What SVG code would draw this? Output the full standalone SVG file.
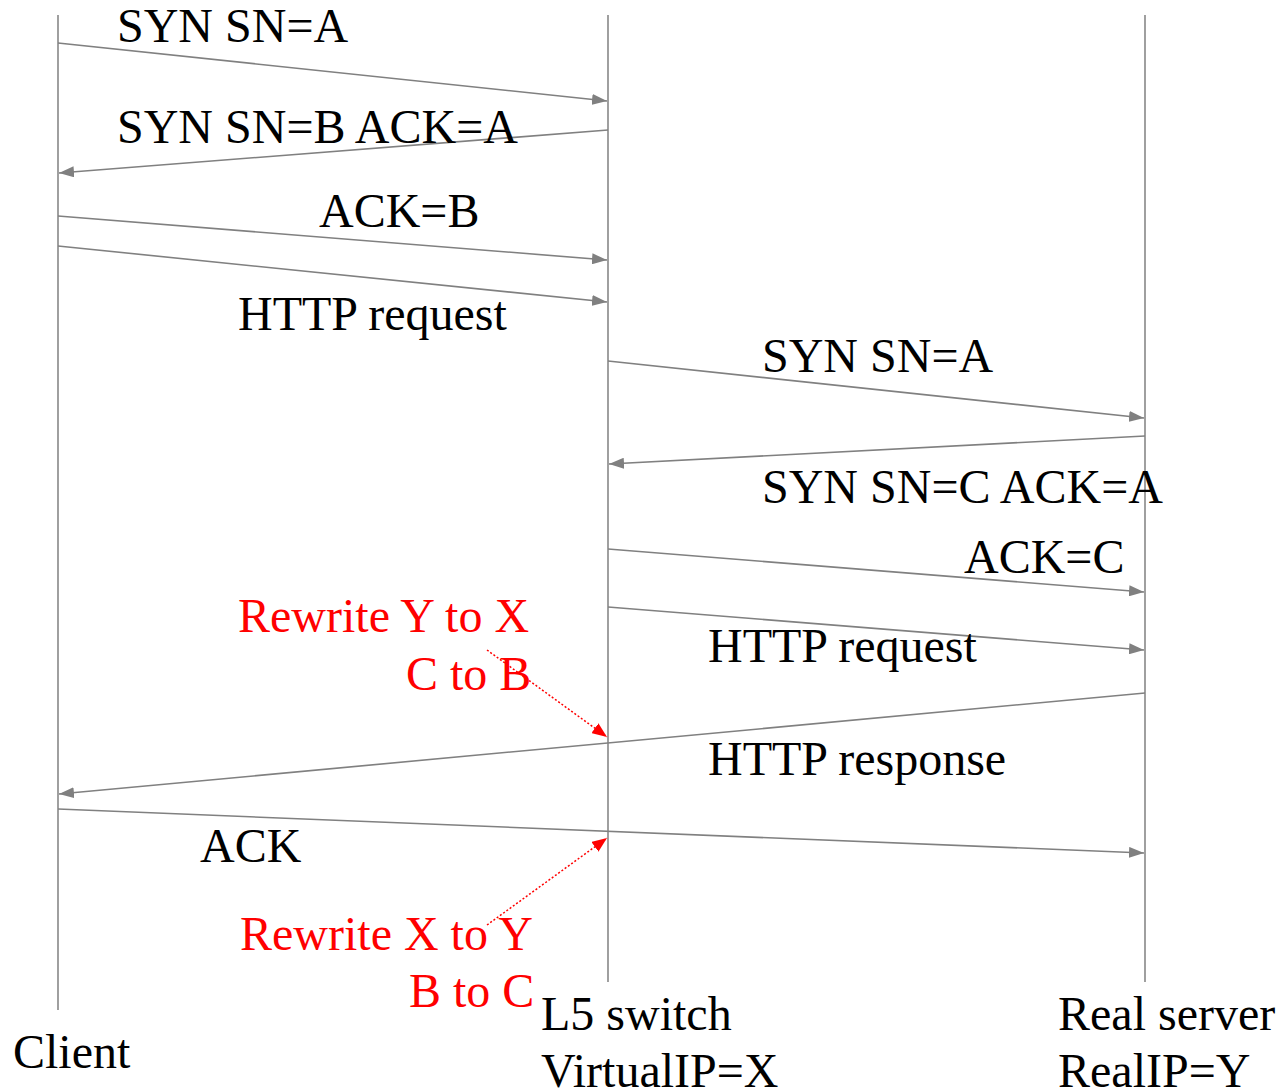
<svg xmlns="http://www.w3.org/2000/svg" width="1281" height="1091" viewBox="0 0 1281 1091">
<style>
text{font-family:"Liberation Serif","Times New Roman",serif;font-size:48px;fill:#000}
.red{fill:#ff0000}
.life{stroke:#888;stroke-width:1.6;fill:none}
.msg{stroke:#808080;stroke-width:1.6;fill:none;marker-end:url(#ah)}
.note{stroke:#ff0000;stroke-width:1.5;stroke-dasharray:2 2;fill:none;marker-end:url(#rh)}
</style>
<defs>
<marker id="ah" viewBox="0 0 15 11" refX="15" refY="5.5" markerWidth="15" markerHeight="11" markerUnits="userSpaceOnUse" orient="auto"><path d="M0,0L15,5.5L0,11z" fill="#808080"/></marker>
<marker id="rh" viewBox="0 0 15 12" refX="15" refY="6" markerWidth="15" markerHeight="12" markerUnits="userSpaceOnUse" orient="auto"><path d="M0,0L15,6L0,12z" fill="#ff0000"/></marker>
</defs>
<g id="client"><line class="life" x1="58" y1="15" x2="58" y2="1010"/><text x="13" y="1068">Client</text></g>
<g id="switch"><line class="life" x1="608" y1="15" x2="608" y2="982"/><text x="541" y="1030">L5 switch</text><text x="541" y="1087">VirtualIP=X</text></g>
<g id="server"><line class="life" x1="1145" y1="15" x2="1145" y2="982"/><text x="1058" y="1030">Real server</text><text x="1058" y="1087">RealIP=Y</text></g>
<g id="connectors">
<line class="msg" x1="58" y1="43" x2="607" y2="101"/>
<line class="msg" x1="608" y1="130" x2="59" y2="173"/>
<line class="msg" x1="58" y1="216" x2="607" y2="260"/>
<line class="msg" x1="58" y1="246" x2="607" y2="302"/>
<line class="msg" x1="608" y1="361" x2="1144" y2="418"/>
<line class="msg" x1="1145" y1="436" x2="609" y2="464"/>
<line class="msg" x1="608" y1="549" x2="1144" y2="592"/>
<line class="msg" x1="608" y1="607" x2="1144" y2="650"/>
<line class="msg" x1="1145" y1="693" x2="59" y2="794"/>
<line class="msg" x1="58" y1="809" x2="1144" y2="853"/>
<line class="note" x1="487" y1="650" x2="607" y2="737"/>
<line class="note" x1="487" y1="925" x2="607" y2="838"/>
</g>
<g id="labels">
<text x="117" y="42">SYN SN=A</text>
<text x="117" y="143">SYN SN=B ACK=A</text>
<text x="319" y="227">ACK=B</text>
<text x="238" y="330">HTTP request</text>
<text x="762" y="372">SYN SN=A</text>
<text x="762" y="503">SYN SN=C ACK=A</text>
<text x="964" y="573">ACK=C</text>
<text x="708" y="662">HTTP request</text>
<text x="708" y="775">HTTP response</text>
<text x="200" y="862">ACK</text>
<text class="red" x="238" y="632">Rewrite Y to X</text>
<text class="red" x="406" y="690">C to B</text>
<text class="red" x="240" y="950">Rewrite X to Y</text>
<text class="red" x="409" y="1007">B to C</text>
</g>
</svg>
